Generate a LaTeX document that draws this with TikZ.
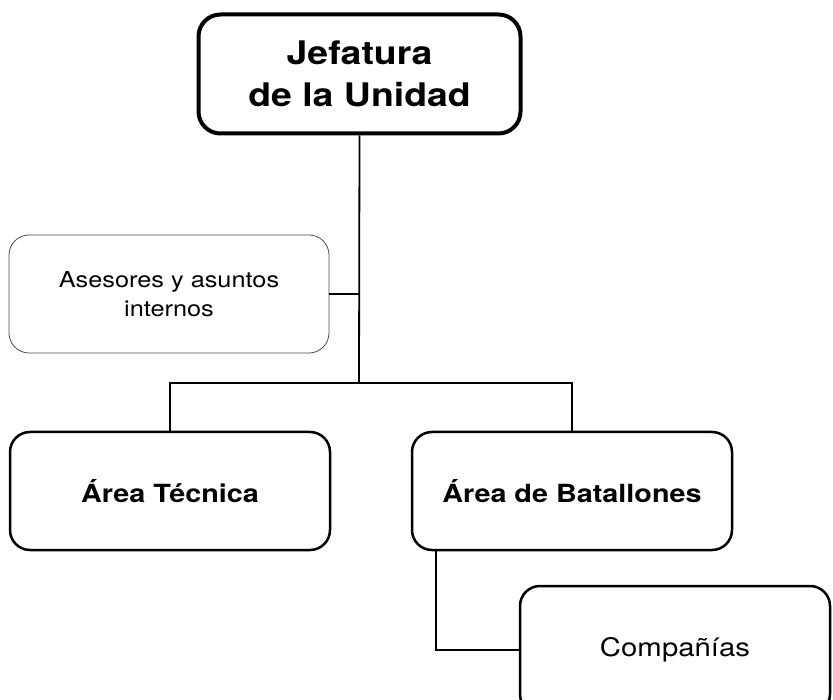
\documentclass[tikz,border=0pt]{standalone}
\usepackage{fontspec}
\setmainfont{TeX Gyre Heros}[FakeStretch=1.15]
\usepackage{tikz}
\usetikzlibrary{positioning,calc}

\begin{document}
\begin{tikzpicture}[
			x = 1pt, y = -1pt,
			every node/.style = {align = center, inner sep = 0},
			unitbox/.style = {draw, rounded corners = 20pt, line width = 2.5pt, minimum width = 320pt, minimum height = 118pt},
			headbox/.style = {unitbox, line width = 4pt, rounded corners = 22pt, minimum width = 322pt, minimum height = 119pt, font = \fontsize{32.5}{42}\selectfont\bfseries},
			areabox/.style = {unitbox, font = \fontsize{25}{30}\selectfont\bfseries},
			staffbox/.style = {unitbox, draw = black!70, line width = 0.8pt, font = \fontsize{22}{29}\selectfont},
			subbox/.style = {unitbox, minimum width = 310pt, minimum height = 128pt, font = \fontsize{25.5}{30}\selectfont},
			link/.style = {line width = 1.8pt}]

			\useasboundingbox (0,0) rectangle (833,700);

			\node[headbox] (jefatura) at (359.5,74) {Jefatura\\de la Unidad};
			\node[staffbox] (asesores) at (169,294) {Asesores y asuntos\\internos};
			\node[areabox] (tecnica) at (170,491) {Área Técnica};
			\node[areabox] (batallones) at (572,491) {Área de Batallones};
			\node[subbox] (companias) at (675,650) {Compañías};

			\coordinate (bus) at (359,383);

			\draw[link] (jefatura.south) -- (bus);
			\draw[link] (asesores.east) -- (asesores.east -| bus);
			\draw[link] (tecnica.north) |- (bus) -| (batallones.north);
			\draw[link] ($(batallones.south west)+(25,0)$) |- (companias.west);

		\end{tikzpicture}
\end{document}
